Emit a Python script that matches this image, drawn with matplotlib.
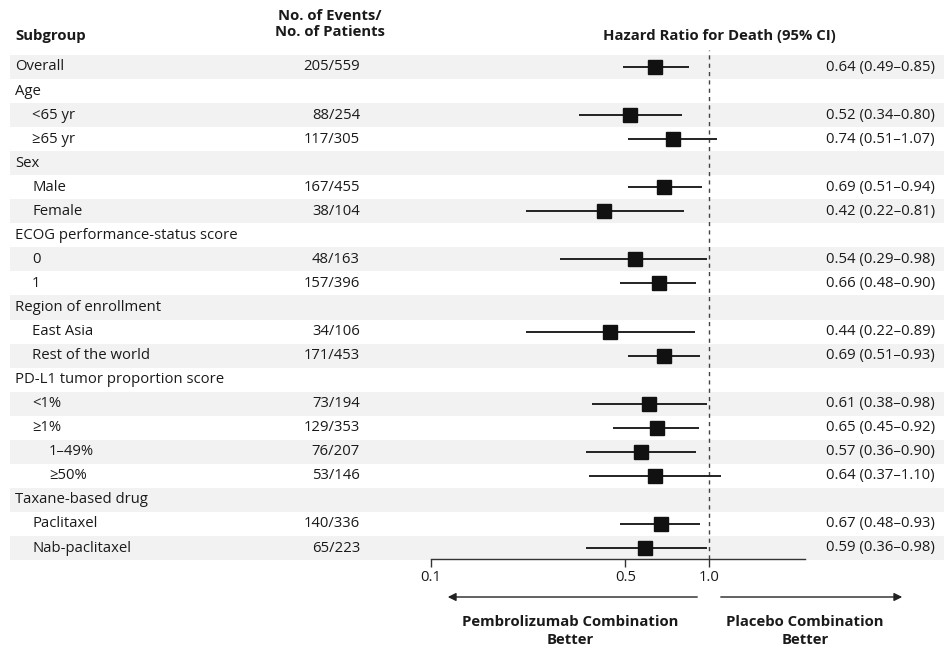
import matplotlib.pyplot as plt
import matplotlib.patches as mpatches

plt.rcParams['font.family'] = ['Open Sans', 'DejaVu Sans']

# subgroup labels (indent level, text)
labels = ["Overall", "Age", "<65 yr", "≥65 yr", "Sex", "Male", "Female",
          "ECOG performance-status score", "0", "1", "Region of enrollment",
          "East Asia", "Rest of the world", "PD-L1 tumor proportion score",
          "<1%", "≥1%", "1–49%", "≥50%", "Taxane-based drug", "Paclitaxel",
          "Nab-paclitaxel"]
indent = [0, 0, 1, 1, 0, 1, 1, 0, 1, 1, 0, 1, 1, 0, 1, 1, 2, 2, 0, 1, 1]
events = ["205/559", "", "88/254", "117/305", "", "167/455", "38/104", "",
          "48/163", "157/396", "", "34/106", "171/453", "", "73/194",
          "129/353", "76/207", "53/146", "", "140/336", "65/223"]
hr = [0.64, None, 0.52, 0.74, None, 0.69, 0.42, None, 0.54, 0.66, None,
      0.44, 0.69, None, 0.61, 0.65, 0.57, 0.64, None, 0.67, 0.59]
lo = [0.49, None, 0.34, 0.51, None, 0.51, 0.22, None, 0.29, 0.48, None,
      0.22, 0.51, None, 0.38, 0.45, 0.36, 0.37, None, 0.48, 0.36]
hi = [0.85, None, 0.80, 1.07, None, 0.94, 0.81, None, 0.98, 0.90, None,
      0.89, 0.93, None, 0.98, 0.92, 0.90, 1.10, None, 0.93, 0.98]
xticks = [0.1, 0.5, 1.0]

W, H = 944, 649
fig = plt.figure(figsize=(W / 100, H / 100), dpi=100)

# background axes in pixel units for bands and text
bg = fig.add_axes([0, 0, 1, 1])
bg.set_xlim(0, W)
bg.set_ylim(H, 0)
bg.axis('off')

row0, step = 67, 24.05
fs = 10.7
txt = '#1a1a1a'
for i, lab in enumerate(labels):
    y = row0 + step * i
    if i % 2 == 0:
        bg.add_patch(mpatches.Rectangle((10, y - step / 2), W - 10, step,
                                        color='#f2f2f2', lw=0, zorder=0))
    bg.text(15 + 17 * indent[i], y, lab, fontsize=fs, va='center', color=txt)
    if events[i]:
        bg.text(360, y, events[i], fontsize=fs, va='center', ha='right', color=txt)
    if hr[i] is not None:
        s = f"{hr[i]:.2f} ({lo[i]:.2f}–{hi[i]:.2f})"
        bg.text(935, y, s, fontsize=fs, va='center', ha='right', color=txt)

bg.text(15, 36, "Subgroup", fontsize=fs, fontweight='bold', va='center', color=txt)
bg.text(330, 24, "No. of Events/\nNo. of Patients", fontsize=fs, fontweight='bold',
        va='center', ha='center', linespacing=1.15, color=txt)
bg.text(719, 36, "Hazard Ratio for Death (95% CI)", fontsize=fs, fontweight='bold',
        va='center', ha='center', color=txt)

# forest axes, log scale
x0, x1 = 431, 805
ytop, ybot = 50, 559
ax = fig.add_axes([x0 / W, 1 - ybot / H, (x1 - x0) / W, (ybot - ytop) / H])
ax.patch.set_alpha(0)
ax.set_xscale('log')
xmax = 10 ** ((x1 - 709) / 278.0)
ax.set_xlim(0.1, xmax)
ax.set_ylim((ybot - row0) / step, (ytop - row0) / step)
for sp in ['top', 'right', 'left']:
    ax.spines[sp].set_visible(False)
ax.spines['bottom'].set_color('#333333')
ax.spines['bottom'].set_linewidth(1)
ax.set_yticks([])
ax.set_xticks(xticks)
ax.set_xticklabels(["0.1", "0.5", "1.0"], fontsize=fs, color=txt)
ax.minorticks_off()
ax.tick_params(axis='x', direction='out', length=6, width=1, color='#333333', pad=2)
ax.axvline(1.0, color='#444444', ls=(0, (3, 3)), lw=1)

for i in range(len(labels)):
    if hr[i] is None:
        continue
    ax.plot([lo[i], hi[i]], [i, i], color='#222222', lw=1.4, solid_capstyle='butt')
    ax.plot(hr[i], i, marker='s', ms=9.5, color='#111111')

# arrows and direction labels
bg.annotate("", xy=(445, 597), xytext=(700, 597),
            arrowprops=dict(arrowstyle='-|>', color='#222222', lw=1, mutation_scale=12))
bg.annotate("", xy=(905, 597), xytext=(718, 597),
            arrowprops=dict(arrowstyle='-|>', color='#222222', lw=1, mutation_scale=12))
bg.text(570, 631, "Pembrolizumab Combination\nBetter", fontsize=fs, fontweight='bold',
        ha='center', va='center', linespacing=1.3, color=txt)
bg.text(805, 631, "Placebo Combination\nBetter", fontsize=fs, fontweight='bold',
        ha='center', va='center', linespacing=1.3, color=txt)

fig.savefig("out.png", dpi=100)
